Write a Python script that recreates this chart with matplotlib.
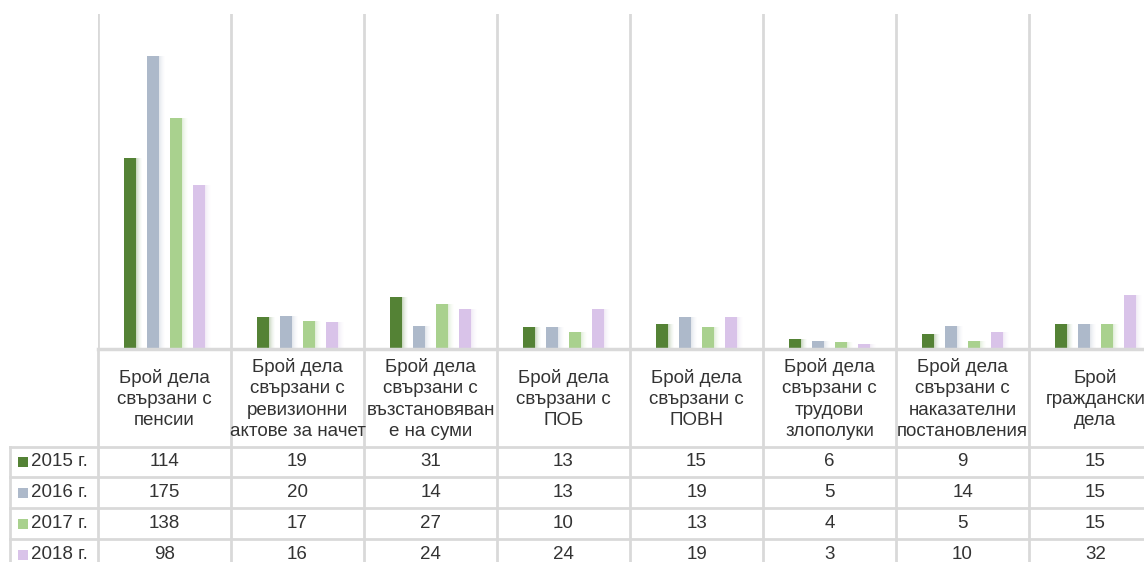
import numpy as np
import matplotlib.pyplot as plt

plt.rcParams['font.family'] = ['Liberation Sans', 'DejaVu Sans']

categories = [
    "Брой дела\nсвързани с\nпенсии",
    "Брой дела\nсвързани с\nревизионни\nактове за начет",
    "Брой дела\nсвързани с\nвъзстановяван\nе на суми",
    "Брой дела\nсвързани с\nПОБ",
    "Брой дела\nсвързани с\nПОВН",
    "Брой дела\nсвързани с\nтрудови\nзлополуки",
    "Брой дела\nсвързани с\nнаказателни\nпостановления",
    "Брой\nграждански\nдела",
]
years = ["2015 г.", "2016 г.", "2017 г.", "2018 г."]
v2015 = [114, 19, 31, 13, 15, 6, 9, 15]
v2016 = [175, 20, 14, 13, 19, 5, 14, 15]
v2017 = [138, 17, 27, 10, 13, 4, 5, 15]
v2018 = [98, 16, 24, 24, 19, 3, 10, 32]
series = [v2015, v2016, v2017, v2018]
colors = ["#548235", "#ADB9CA", "#A9D18E", "#D9C3E9"]
grid_c = "#D9D9D9"
txt_c = "#333333"

W, H = 1144, 562
fig = plt.figure(figsize=(W / 100, H / 100), dpi=100)

# pixel layout
left, top, base = 98, 14, 349
cw = 133
xmax = (W - left) / cw

ax = fig.add_axes([left / W, 1 - base / H, (W - left) / W, (base - top) / H])
ax.set_xlim(0, xmax)
ax.set_ylim(0, 200)
ax.axis('off')

x = np.arange(len(categories)) + 0.5
offs = [-0.26, -0.087, 0.087, 0.26]
bw = 0.09
for vals, c, o in zip(series, colors, offs):
    # soft shadow to the right
    for k, a in enumerate([0.10, 0.08, 0.06, 0.04, 0.03, 0.02]):
        ax.bar(x + o + 0.008 * (k + 1), vals, bw, color=c, alpha=a, linewidth=0, zorder=2)
    ax.bar(x + o, vals, bw, color=c, linewidth=0, zorder=3)
for i in range(len(categories) + 1):
    ax.axvline(i, color=grid_c, lw=2, zorder=1)

# data table in pixel coordinates
tb = fig.add_axes([0, 0, 1, 1])
tb.set_xlim(0, W)
tb.set_ylim(H, 0)
tb.axis('off')

rows = [447, 477, 508, 539, 570]
for i in range(len(categories) + 1):
    xl = left + i * cw
    tb.plot([xl, xl], [base, H], color=grid_c, lw=2)
tb.plot([left, W], [base, base], color=grid_c, lw=2.5)
for r in rows[:-1]:
    tb.plot([10, W], [r, r], color=grid_c, lw=2)
tb.plot([10, 10], [rows[0], H], color=grid_c, lw=2)

for i, cat in enumerate(categories):
    cx = left + (i + 0.5) * cw
    tb.text(cx, (base + rows[0]) / 2 + 1, cat, ha='center', va='center',
            fontsize=13.5, color=txt_c, linespacing=1.33)
    for j, vals in enumerate(series):
        tb.text(cx, (rows[j] + rows[j + 1]) / 2, str(vals[i]), ha='center', va='center',
                fontsize=13.5, color=txt_c)

for j, (yr, c) in enumerate(zip(years, colors)):
    cy = (rows[j] + rows[j + 1]) / 2
    tb.add_patch(plt.Rectangle((18, cy - 5), 10, 10, color=c, lw=0))
    tb.text(31, cy, yr, ha='left', va='center', fontsize=13.5, color=txt_c)

fig.savefig("out.png", dpi=100)
